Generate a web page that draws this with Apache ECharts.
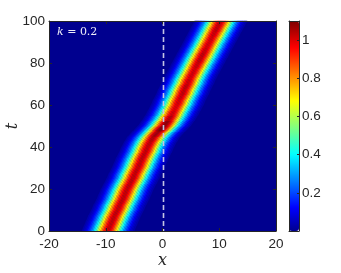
<!DOCTYPE html>
<html>
<head>
<meta charset="utf-8">
<script src="https://cdn.jsdelivr.net/npm/echarts@6/dist/echarts.min.js"></script>
<style>
html,body{margin:0;padding:0;background:#ffffff;}
#chart{width:341px;height:273px;}
</style>
</head>
<body>
<div id="chart"></div>
<script>
// ---- data ----
const xTicks = [-20, -10, 0, 10, 20];
const tTicks = [0, 20, 40, 60, 80, 100];
const colorTicks = [0.2, 0.4, 0.6, 0.8, 1];
const defectX = 0;

// time rows (t) of the field
const tRows = [0,2.5,5,7.5,10,12.5,15,17.5,20,22.5,25,27.5,30,32.5,35,37.5,40,
  42.5,45,47.5,50,52.5,55,57.5,60,62.5,65,67.5,70,72.5,75,77.5,80,82.5,85,87.5,90,92.5,95,97.5,100];
// soliton centre position x for each row
const centers = [-9.6,-9.2,-8.8,-8.4,-7.9,-7.5,-7.0,-6.6,-6.2,-5.7,-5.2,-4.8,-4.3,-3.9,-3.5,-3.0,-2.6,
  -2.1,-1.5,-0.6,0.3,1.0,1.6,2.1,2.6,3.0,3.5,3.9,4.4,4.8,5.3,5.8,6.3,6.8,7.3,7.8,8.3,8.8,9.3,9.8,10.3];
// peak |u| for each row
const peaks = [1.02,1.02,1.02,1.02,1.02,1.02,1.02,1.02,1.02,1.02,1.02,1.02,1.02,1.02,1.02,1.02,1.02,
  1.03,1.05,1.09,1.07,1.03,1.00,0.99,1.00,1.01,1.02,1.02,1.01,1.00,1.00,1.01,1.02,1.02,1.01,1.00,1.00,1.01,1.02,1.02,1.01];
// relative |u| at distance 0, 0.25, 0.5, ... from the centre
const profileValues = [1.00,0.99,0.95,0.90,0.83,0.76,0.68,0.59,0.50,0.42,0.35,0.28,0.23,0.18,0.14,0.10,0.07,0.05,0.03];

// ---- strips of cells between consecutive rows ----
const xStep = 0.25;
const fieldCells = [];
for (let i = 0; i < tRows.length - 1; i++) {
  for (let k = -(profileValues.length - 1); k < profileValues.length; k++) {
    const o = k * xStep;
    const v = +(peaks[i] * profileValues[Math.abs(k)]).toFixed(3);
    fieldCells.push([centers[i] + o, tRows[i], v, centers[i + 1] + o, tRows[i + 1]]);
  }
}

// MATLAB jet colormap (style)
function jetMap(m) {
  const n = Math.ceil(m / 4);
  const u = [];
  for (let i = 1; i <= n; i++) u.push(i / n);
  for (let i = 1; i < n; i++) u.push(1);
  for (let i = n; i >= 1; i--) u.push(i / n);
  const gOff = Math.ceil(n / 2) - (m % 4 === 1 ? 1 : 0);
  const R = new Array(m).fill(0), G = new Array(m).fill(0), B = new Array(m).fill(0);
  for (let k = 0; k < u.length; k++) {
    const g = gOff + k + 1, r = g + n, b = g - n;
    if (g >= 1 && g <= m) G[g - 1] = u[k];
    if (r >= 1 && r <= m) R[r - 1] = u[k];
    if (b >= 1 && b <= m) B[b - 1] = u[k];
  }
  const h = function (v) { return ('0' + Math.round(v * 255).toString(16)).slice(-2); };
  const out = [];
  for (let i = 0; i < m; i++) out.push('#' + h(R[i]) + h(G[i]) + h(B[i]));
  return out;
}
const jet = jetMap(64);

const axisColor = '#262626';
const labelFont = { color: axisColor, fontFamily: 'Liberation Sans, Arial, sans-serif', fontSize: 13.5 };

function renderCell(params, api) {
  const hw = xStep / 2 + 0.02;
  const xb = api.value(0), tb = api.value(1), xt = api.value(3), tt = api.value(4);
  const pts = [
    api.coord([xb - hw, tb - 0.15]),
    api.coord([xb + hw, tb - 0.15]),
    api.coord([xt + hw, tt + 0.15]),
    api.coord([xt - hw, tt + 0.15])
  ];
  return { type: 'polygon', shape: { points: pts }, style: { fill: api.visual('color') } };
}

function renderDefect(params, api) {
  const p0 = api.coord([api.value(0), 100]);
  const p1 = api.coord([api.value(0), 0]);
  return {
    type: 'line',
    shape: { x1: Math.round(p0[0]) + 0.5, y1: p0[1], x2: Math.round(p1[0]) + 0.5, y2: p1[1] },
    style: { stroke: '#c4c4e4', lineWidth: 1.6, lineDash: [5, 3], fill: null }
  };
}

function frameAxis(extra) {
  return Object.assign({
    type: 'value', z: 10,
    axisLine: { show: true, onZero: false, lineStyle: { color: axisColor, width: 1 } },
    axisTick: { show: false }, axisLabel: { show: false }, splitLine: { show: false }
  }, extra);
}

const chart = echarts.init(document.getElementById('chart'), null, { renderer: 'canvas' });
chart.setOption({
  animation: false,
  title: {
    text: '{i|k} = 0.2',
    left: 57, top: 27, padding: 0,
    textStyle: {
      color: '#eeeef8', fontSize: 11, fontFamily: 'DejaVu Serif, serif', fontWeight: 'normal',
      rich: { i: { fontStyle: 'italic', fontSize: 11, color: '#eeeef8', fontFamily: 'DejaVu Serif, serif' } }
    }
  },
  grid: [
    { left: 49, top: 21, width: 227, height: 210, show: true, backgroundColor: jet[0], borderWidth: 0, outerBoundsMode: 'none', containLabel: false },
    { left: 289, top: 21, width: 10, height: 210, show: false, outerBoundsMode: 'none', containLabel: false }
  ],
  xAxis: [
    frameAxis({ gridIndex: 0, min: -20, max: 20, interval: 10, position: 'bottom',
      axisTick: { show: true, inside: true, length: 3, lineStyle: { color: axisColor } },
      axisLabel: Object.assign({ show: true, margin: 6, formatter: function (v) { return xTicks.indexOf(v) >= 0 ? String(v) : ''; } }, labelFont),
      name: 'x', nameLocation: 'middle', nameGap: 22, nameMoveOverlap: false,
      nameTextStyle: { fontFamily: 'DejaVu Serif, serif', fontStyle: 'italic', fontSize: 16, color: axisColor } }),
    frameAxis({ gridIndex: 0, min: -20, max: 20, interval: 10, position: 'top',
      axisTick: { show: true, inside: true, length: 3, lineStyle: { color: axisColor } } }),
    frameAxis({ gridIndex: 1, min: 0, max: 1, position: 'bottom' }),
    frameAxis({ gridIndex: 1, min: 0, max: 1, position: 'top' })
  ],
  yAxis: [
    frameAxis({ gridIndex: 0, min: 0, max: 100, interval: 20, position: 'left',
      axisTick: { show: true, inside: true, length: 3, lineStyle: { color: axisColor } },
      axisLabel: Object.assign({ show: true, margin: 4, formatter: function (v) { return tTicks.indexOf(v) >= 0 ? String(v) : ''; } }, labelFont),
      name: 't', nameLocation: 'middle', nameGap: 28, nameRotate: 90, nameMoveOverlap: false,
      nameTextStyle: { fontFamily: 'DejaVu Serif, serif', fontStyle: 'italic', fontSize: 16, color: axisColor } }),
    frameAxis({ gridIndex: 0, min: 0, max: 100, interval: 20, position: 'right',
      axisTick: { show: true, inside: true, length: 3, lineStyle: { color: axisColor } } }),
    frameAxis({ gridIndex: 1, min: 0, max: 1.1, interval: 0.2, position: 'right',
      axisTick: { show: true, inside: true, length: 2, lineStyle: { color: axisColor } },
      axisLabel: Object.assign({ show: true, margin: 3, formatter: function (v) {
        const r = Math.round(v * 10) / 10;
        return colorTicks.indexOf(r) >= 0 ? (r === 1 ? '1' : r.toFixed(1)) : '';
      } }, labelFont) }),
    frameAxis({ gridIndex: 1, min: 0, max: 1.1, position: 'left' })
  ],
  visualMap: {
    type: 'continuous', min: 0, max: 1.1, dimension: 2, seriesIndex: [0],
    show: true, calculable: false, realtime: false,
    left: 289, top: 21, itemWidth: 10, itemHeight: 210, padding: 0,
    text: null, showLabel: false, hoverLink: false,
    inRange: { color: jet }
  },
  series: [
    { type: 'custom', xAxisIndex: 0, yAxisIndex: 0, renderItem: renderCell, data: fieldCells,
      encode: { x: [0, 3], y: [1, 4] }, silent: true, z: 2 },
    { type: 'custom', xAxisIndex: 0, yAxisIndex: 0, renderItem: renderDefect, data: [[defectX]],
      encode: { x: 0 }, silent: true, z: 5 }
  ]
});
</script>
</body>
</html>
